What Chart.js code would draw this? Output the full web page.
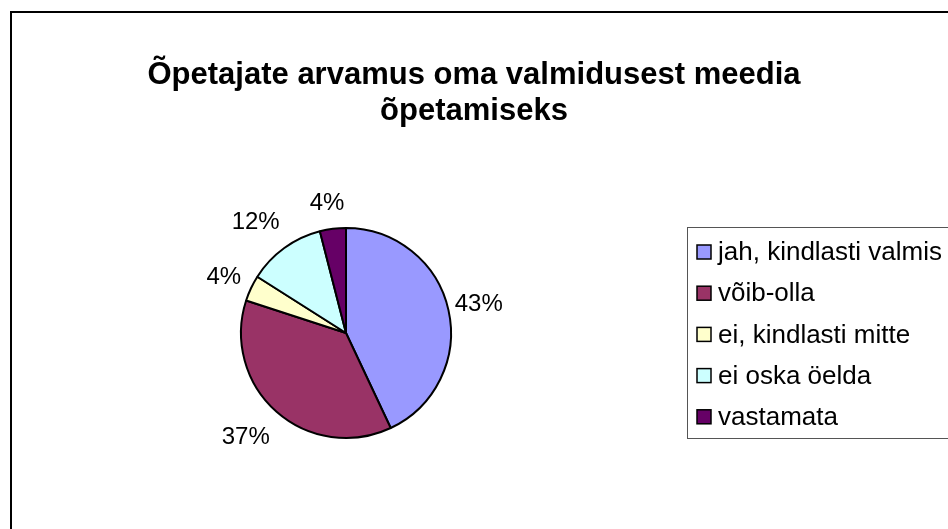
<!DOCTYPE html>
<html>
<head>
<meta charset="utf-8">
<script src="https://cdn.jsdelivr.net/npm/chart.js@4"></script>
<style>
  html, body { margin: 0; padding: 0; background: #fff; }
  #wrap { width: 948px; height: 529px; }
</style>
</head>
<body>
<div id="wrap"><canvas id="chart" width="948" height="529"></canvas></div>
<script>
const titleLines = ["Õpetajate arvamus oma valmidusest meedia", "õpetamiseks"];
const categories = ["jah, kindlasti valmis", "võib-olla", "ei, kindlasti mitte", "ei oska öelda", "vastamata"];
const shares = [43, 37, 4, 12, 4];
const colors = ["#9999FF", "#993366", "#FFFFCC", "#CCFFFF", "#660066"];

const font = "Liberation Sans, Arial, sans-serif";
// small hand nudges so the % labels sit where Excel left them
const labelNudge = [[1, 1], [-11, 3], [0, 2], [-11, -1], [-2, 4]];

// frame, title, outside % labels and boxed legend
const decor = {
  id: "decor",
  beforeDraw(chart) {
    const c = chart.ctx;
    c.save();
    c.fillStyle = "#fff";
    c.fillRect(0, 0, chart.width, chart.height);
    c.restore();
  },
  afterDraw(chart) {
    const c = chart.ctx;
    c.save();

    c.strokeStyle = "#000";
    c.lineWidth = 2;
    c.strokeRect(11, 12, 960, 540);

    c.fillStyle = "#000";
    c.textAlign = "center";
    c.textBaseline = "middle";
    c.font = "bold 31px " + font;
    c.fillText(titleLines[0], 474, 75);
    c.fillText(titleLines[1], 474, 111);

    // percentage labels outside the slices
    const meta = chart.getDatasetMeta(0);
    c.font = "24px " + font;
    meta.data.forEach((arc, i) => {
      const mid = (arc.startAngle + arc.endAngle) / 2;
      const r = arc.outerRadius + 30;
      const x = arc.x + Math.cos(mid) * r + labelNudge[i][0];
      const y = arc.y + Math.sin(mid) * r + labelNudge[i][1];
      c.fillText(shares[i] + "%", x, y);
    });

    // legend
    c.strokeStyle = "#555";
    c.lineWidth = 1;
    c.strokeRect(687.5, 227.5, 300, 211);
    c.textAlign = "left";
    c.font = "26px " + font;
    categories.forEach((name, i) => {
      const y = 252 + i * 41.2;
      c.fillStyle = colors[i];
      c.fillRect(697, y - 7, 14, 14);
      c.strokeStyle = "#000";
      c.lineWidth = 1.5;
      c.strokeRect(697, y - 7, 14, 14);
      c.fillStyle = "#000";
      c.fillText(name, 718, y + 1);
    });

    c.restore();
  }
};

new Chart(document.getElementById("chart"), {
  type: "pie",
  data: {
    labels: categories,
    datasets: [{
      data: shares,
      backgroundColor: colors,
      borderColor: "#000",
      borderWidth: 2
    }]
  },
  options: {
    responsive: false,
    animation: false,
    layout: { padding: { left: 240, right: 496, top: 227, bottom: 90 } },
    plugins: {
      legend: { display: false },
      title: { display: false },
      tooltip: { enabled: false }
    }
  },
  plugins: [decor]
});
</script>
</body>
</html>
